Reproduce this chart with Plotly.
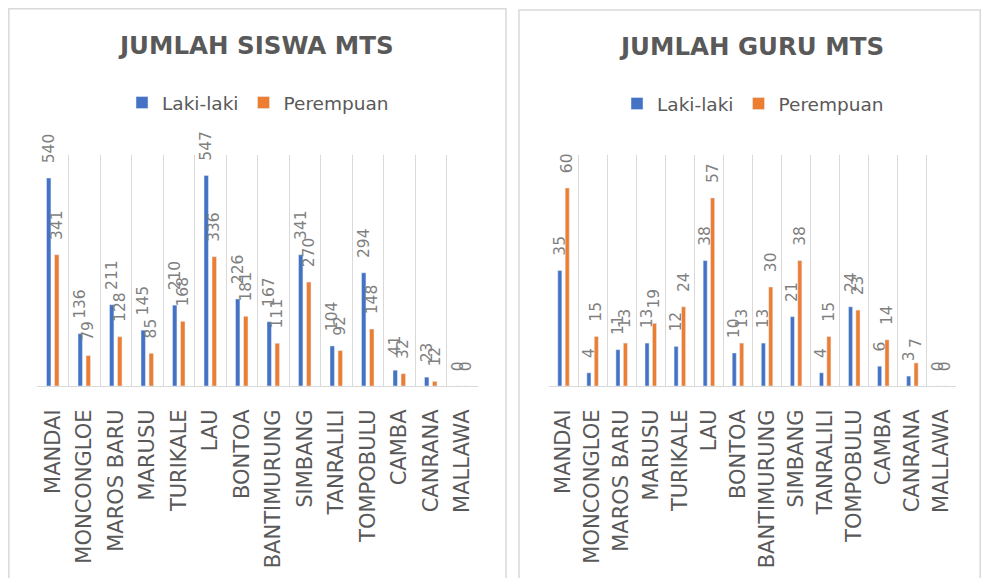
import plotly.graph_objects as go

categories = ["MANDAI", "MONCONGLOE", "MAROS BARU", "MARUSU", "TURIKALE", "LAU", "BONTOA",
              "BANTIMURUNG", "SIMBANG", "TANRALILI", "TOMPOBULU", "CAMBA", "CANRANA", "MALLAWA"]
siswa_laki = [540, 136, 211, 145, 210, 547, 226, 167, 341, 104, 294, 41, 23, 0]
siswa_perempuan = [341, 79, 128, 85, 168, 336, 181, 111, 270, 92, 148, 32, 12, 0]
guru_laki = [35, 4, 11, 13, 12, 38, 10, 13, 21, 4, 24, 6, 3, 0]
guru_perempuan = [60, 15, 13, 19, 24, 57, 13, 30, 38, 15, 23, 14, 7, 0]
series_names = ["Laki-laki", "Perempuan"]
titles = ["JUMLAH SISWA MTS", "JUMLAH GURU MTS"]

BLUE = "#4472C4"
ORANGE = "#ED7D31"
TXT = "#595959"
GRID = "#d9d9d9"
# page body has an 8px margin; figure sized to fit inside the 989x586 window
OFF = 8
W, H = 989 - 2 * OFF, 586 - 2 * OFF
FONT = "DejaVu Sans"


def fx(p):
    return (p - OFF) / W


def fy(p):
    return 1 - (p - OFF) / H


fig = go.Figure()


def add_bar(name, vals, color, xa, ya, legend):
    fig.add_trace(go.Bar(
        x=categories, y=vals, name=name, marker_color=color,
        xaxis=xa, yaxis=ya, legend=legend,
        text=vals, texttemplate="\u00a0\u00a0\u00a0%{y}",
        textposition="outside", textangle=-90,
        textfont=dict(family=FONT, size=15.5, color="#7f7f7f"),
        cliponaxis=False, constraintext="none", hoverinfo="skip",
    ))


add_bar(series_names[0], siswa_laki, BLUE, "x", "y", "legend")
add_bar(series_names[1], siswa_perempuan, ORANGE, "x", "y", "legend")
add_bar(series_names[0], guru_laki, BLUE, "x2", "y2", "legend2")
add_bar(series_names[1], guru_perempuan, ORANGE, "x2", "y2", "legend2")

xcommon = dict(
    type="category", tickson="boundaries", showgrid=True, gridcolor=GRID, gridwidth=1,
    showline=True, linecolor=GRID, linewidth=1, tickangle=-90, ticks="",
    tickfont=dict(family=FONT, size=21, color=TXT), ticklabelstandoff=14,
    range=[-0.5, 13.5], fixedrange=True,
)
ydom = [fy(386), fy(155)]

legend_common = dict(
    orientation="h", xanchor="center", yanchor="middle",
    font=dict(family=FONT, size=18.5, color=TXT), bgcolor="rgba(0,0,0,0)",
)

fig.update_layout(
    width=W, height=H, margin=dict(l=0, r=0, t=0, b=0),
    paper_bgcolor="white", plot_bgcolor="white",
    barmode="group", bargap=0.49, bargroupgap=0.45,
    xaxis=dict(domain=[fx(37), fx(478)], anchor="y", **xcommon),
    yaxis=dict(domain=ydom, range=[0, 600], visible=False, anchor="x"),
    xaxis2=dict(domain=[fx(549), fx(956)], anchor="y2", **xcommon),
    yaxis2=dict(domain=ydom, range=[0, 70], visible=False, anchor="x2"),
    legend=dict(x=fx(258), y=fy(103), **legend_common),
    legend2=dict(x=fx(753), y=fy(104), **legend_common),
    shapes=[
        dict(type="rect", xref="paper", yref="paper", x0=fx(8.8), x1=fx(506), y0=-0.1, y1=fy(8.8),
             line=dict(color=GRID, width=1.5), fillcolor="rgba(0,0,0,0)", layer="below"),
        dict(type="rect", xref="paper", yref="paper", x0=fx(519), x1=fx(980.2), y0=-0.1, y1=fy(10),
             line=dict(color=GRID, width=1.5), fillcolor="rgba(0,0,0,0)", layer="below"),
    ],
    annotations=[
        dict(text=titles[0], xref="paper", yref="paper", x=fx(256), y=fy(46), showarrow=False,
             xanchor="center", yanchor="middle",
             font=dict(family=FONT, size=24.5, color=TXT, weight="bold")),
        dict(text=titles[1], xref="paper", yref="paper", x=fx(751), y=fy(47), showarrow=False,
             xanchor="center", yanchor="middle",
             font=dict(family=FONT, size=24.5, color=TXT, weight="bold")),
    ],
)

fig.write_html("out.html")
